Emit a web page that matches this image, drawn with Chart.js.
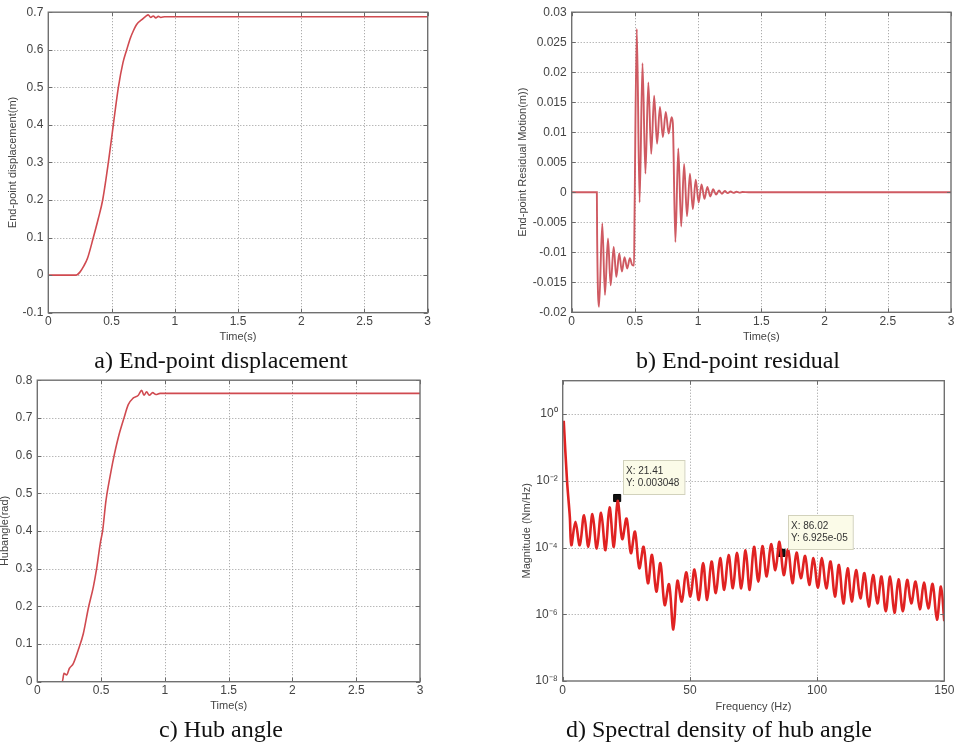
<!DOCTYPE html>
<html><head><meta charset="utf-8">
<script src="https://cdn.jsdelivr.net/npm/chart.js@4.4.1/dist/chart.umd.min.js"></script>
<style>
html,body{margin:0;padding:0;background:#fff;width:959px;height:747px;overflow:hidden;position:relative}
canvas{position:absolute}
.cap{position:absolute;width:440px;text-align:center;font-family:'Liberation Serif','Times New Roman',serif;font-size:24px;line-height:28px;color:#111;z-index:5;white-space:nowrap}
</style></head><body>
<script>
// ---------- DATA ----------
// a) End-point displacement (m) vs time (s)
const aTime = [0, 0.219, 0.25, 0.28, 0.31, 0.356, 0.395, 0.43, 0.475, 0.514, 0.554, 0.59, 0.62, 0.65, 0.672, 0.70, 0.739, 0.77, 0.79, 0.81, 0.83, 0.85, 0.87, 0.89, 0.92, 0.95, 3.0];
const aDisp = [0, 0, 0.008, 0.024, 0.045, 0.10, 0.15, 0.20, 0.30, 0.40, 0.50, 0.565, 0.60, 0.632, 0.65, 0.668, 0.68, 0.689, 0.693, 0.686, 0.690, 0.685, 0.689, 0.686, 0.688, 0.688, 0.688];

// b) End-point residual motion (m) vs time (s)
const bTime = [0, 0.199, 0.201, 0.216, 0.242, 0.263, 0.287, 0.308, 0.332, 0.353, 0.376, 0.397, 0.418, 0.439, 0.46, 0.478, 0.493,
  0.497, 0.515, 0.537, 0.560, 0.583, 0.606, 0.629, 0.652, 0.675, 0.698, 0.721, 0.744, 0.767, 0.790, 0.800,
  0.820, 0.843, 0.866, 0.889, 0.912, 0.935, 0.958, 0.981, 1.004, 1.027, 1.050, 1.073, 1.096, 1.119, 1.142, 1.165, 1.188, 1.211, 1.234, 1.257, 1.280, 1.303, 1.326, 1.350, 1.400, 3.0];
const bResid = [0, 0, -0.007, -0.0191, -0.0052, -0.0171, -0.0077, -0.0155, -0.0091, -0.0141, -0.0102, -0.0132, -0.0108, -0.0127, -0.0110, -0.0121, -0.0122,
  -0.004, 0.0272, -0.0017, 0.0215, 0.0031, 0.0183, 0.0064, 0.0161, 0.0081, 0.0142, 0.0092, 0.0134, 0.0098, 0.0125, 0.0115,
  -0.0083, 0.0073, -0.0057, 0.0047, -0.0040, 0.0031, -0.0028, 0.0021, -0.0017, 0.0013, -0.0011, 0.0009, -0.0007, 0.0005, -0.0004, 0.0003, -0.00025, 0.0002, -0.00015, 0.00012, -0.0001, 0.00008, -0.00006, 0.00004, 0, 0];

// c) Hub angle (rad) vs time (s)
const cTime = [0, 0.196, 0.209, 0.23, 0.251, 0.282, 0.321, 0.361, 0.40, 0.439, 0.465, 0.495, 0.512, 0.538, 0.569, 0.596, 0.635, 0.68, 0.713, 0.753, 0.792, 0.818, 0.836, 0.857, 0.878, 0.904, 0.93, 0.962, 1.0, 3.0];
const cHub  = [0, 0, 0.022, 0.018, 0.035, 0.048, 0.084, 0.128, 0.195, 0.251, 0.30, 0.37, 0.40, 0.48, 0.542, 0.59, 0.648, 0.70, 0.735, 0.753, 0.76, 0.773, 0.76, 0.769, 0.76, 0.767, 0.762, 0.765, 0.765, 0.765];

// d) Spectral density of hub angle: frequency (Hz) vs magnitude (Nm/Hz), lobe peaks and notches
const dFreq = [0.4, 1.7, 2.8, 3.4, 5.0, 6.7, 8.4, 10.1, 11.7, 13.4, 15.1, 16.8, 18.4, 20.1, 21.6, 23.4, 25.1, 26.8, 28.4, 30.1,
  31.8, 33.5, 35.1, 36.8, 38.4, 40.1, 41.8, 43.5, 45.1, 46.8, 48.5, 50.2, 51.8, 53.5, 55.2, 56.8, 58.5, 60.2, 61.9, 63.5,
  65.2, 66.9, 68.5, 70.2, 71.9, 73.5, 75.2, 76.9, 78.5, 80.2, 81.9, 83.6, 85.2, 86.9, 88.6, 90.3, 91.9, 93.6, 95.3, 96.9,
  98.6, 100.3, 101.9, 103.6, 105.3, 107.0, 108.6, 110.3, 112.0, 113.6, 115.3, 117.0, 118.6, 120.3, 122.0, 123.7, 125.3, 127.0, 128.7, 130.4,
  132.0, 133.7, 135.4, 137.0, 138.7, 140.4, 142.0, 143.7, 145.4, 147.1, 148.7, 150.0];
const dMag = [0.63, 1.0e-2, 8.3e-4, 1.17e-4, 5.9e-4, 1.17e-4, 9.3e-4, 1.05e-4, 1.0e-3, 9.3e-5, 1.1e-3, 8.3e-5, 1.6e-3, 1.05e-4, 2.5e-3, 1.8e-4, 7.4e-4, 6.8e-5, 3.0e-4, 2.4e-5,
  1.05e-4, 8.5e-6, 6.0e-5, 4.8e-6, 3.4e-5, 1.9e-6, 7.9e-6, 3.5e-7, 1.0e-5, 2.4e-6, 1.8e-5, 3.4e-6, 2.2e-5, 2.7e-6, 3.4e-5, 2.7e-6, 3.8e-5, 4.3e-6, 4.8e-5, 5.4e-6,
  6.0e-5, 6.0e-6, 6.9e-5, 6.0e-6, 8.3e-5, 5.4e-6, 1.05e-4, 9.5e-6, 1.1e-4, 1.35e-5, 1.26e-4, 2.1e-5, 1.48e-4, 1.5e-5, 8.7e-5, 8.5e-6, 7.1e-5, 1.2e-5, 5.6e-5, 7.6e-6,
  4.8e-5, 6.3e-6, 4.8e-5, 6.0e-6, 3.8e-5, 3.4e-6, 3.0e-5, 2.1e-6, 2.4e-5, 2.4e-6, 2.1e-5, 3.0e-6, 1.7e-5, 1.7e-6, 1.5e-5, 2.1e-6, 1.35e-5, 1.23e-6, 1.35e-5, 1.1e-6,
  1.12e-5, 1.23e-6, 1.07e-5, 2.1e-6, 9.5e-6, 1.4e-6, 8.9e-6, 1.5e-6, 8.1e-6, 6.9e-7, 6.8e-6, 6.2e-7];

// data tips in panel d
const dTipFreq = [21.41, 86.02];
const dTipMag = [0.003048, 6.925e-5];
const dTipXText = ['21.41', '86.02'];
const dTipYText = ['0.003048', '6.925e-05'];

// tick values / labels
const dTickVals = [1, 1e-2, 1e-4, 1e-6, 1e-8];
const dTickLabels = ['10\u2070', '10\u207B\u00B2', '10\u207B\u2074', '10\u207B\u2076', '10\u207B\u2078'];

const captions = ['a) End-point displacement', 'b) End-point residual', 'c) Hub angle', 'd) Spectral density of hub angle'];

// ---------- DRAWING ----------
Chart.defaults.font.family = "'Liberation Sans', Arial, sans-serif";
Chart.defaults.color = '#444';

function mkCanvas(id, cl, ct, cw, ch) {
  const c = document.createElement('canvas');
  c.id = id; c.width = cw; c.height = ch;
  c.style.left = cl + 'px'; c.style.top = ct + 'px';
  c.style.width = cw + 'px'; c.style.height = ch + 'px';
  document.body.appendChild(c);
  return c;
}

const gridFrame = {
  id: 'gridFrame',
  beforeDatasetsDraw(chart) {
    const {ctx, chartArea: a} = chart;
    const xs = chart.scales.x, ys = chart.scales.y;
    ctx.save();
    ctx.strokeStyle = '#9a9a9a'; ctx.lineWidth = 1; ctx.setLineDash([1, 2]);
    xs.ticks.forEach(t => {
      const p = Math.round(xs.getPixelForValue(t.value)) + 0.5;
      if (p > a.left + 2 && p < a.right - 2) { ctx.beginPath(); ctx.moveTo(p, a.top); ctx.lineTo(p, a.bottom); ctx.stroke(); }
    });
    ys.ticks.forEach(t => {
      const p = Math.round(ys.getPixelForValue(t.value)) + 0.5;
      if (p > a.top + 2 && p < a.bottom - 2) { ctx.beginPath(); ctx.moveTo(a.left, p); ctx.lineTo(a.right, p); ctx.stroke(); }
    });
    ctx.restore();
  },
  afterDatasetsDraw(chart) {
    const {ctx, chartArea: a} = chart;
    const xs = chart.scales.x, ys = chart.scales.y;
    ctx.save();
    ctx.strokeStyle = '#6a6a6a'; ctx.lineWidth = 1;
    const tl = 4;
    ctx.beginPath();
    xs.ticks.forEach(t => {
      const p = Math.round(xs.getPixelForValue(t.value)) + 0.5;
      ctx.moveTo(p, a.bottom); ctx.lineTo(p, a.bottom - tl);
      ctx.moveTo(p, a.top); ctx.lineTo(p, a.top + tl);
    });
    ys.ticks.forEach(t => {
      const p = Math.round(ys.getPixelForValue(t.value)) + 0.5;
      ctx.moveTo(a.left, p); ctx.lineTo(a.left + tl, p);
      ctx.moveTo(a.right, p); ctx.lineTo(a.right - tl, p);
    });
    ctx.stroke();
    ctx.strokeStyle = '#707070'; ctx.lineWidth = 1.4;
    ctx.strokeRect(a.left, a.top, a.right - a.left, a.bottom - a.top);
    ctx.restore();
  }
};

const dataTips = {
  id: 'dataTips',
  afterDatasetsDraw(chart) {
    const {ctx} = chart;
    const xs = chart.scales.x, ys = chart.scales.y;
    ctx.save();
    dTipFreq.forEach((f, i) => {
      const px = xs.getPixelForValue(f), py = ys.getPixelForValue(dTipMag[i]);
      const l1 = 'X: ' + dTipXText[i], l2 = 'Y: ' + dTipYText[i];
      ctx.font = "10px 'Liberation Sans', Arial, sans-serif";
      const w = Math.max(ctx.measureText(l1).width, ctx.measureText(l2).width) + 8;
      const bx = Math.round(px + 6), by = Math.round(py - 38), bh = 34;
      ctx.fillStyle = '#fbfbe8'; ctx.fillRect(bx, by, w, bh);
      ctx.strokeStyle = '#d2d2bc'; ctx.lineWidth = 1; ctx.strokeRect(bx + 0.5, by + 0.5, w, bh);
      ctx.fillStyle = '#333'; ctx.textBaseline = 'middle'; ctx.textAlign = 'left';
      ctx.fillText(l1, bx + 3, by + 11);
      ctx.fillText(l2, bx + 3, by + 23);
    });
    ctx.restore();
  }
};

function xy(xs, ys) { return xs.map((v, i) => ({x: v, y: ys[i]})); }

function buildPanel(p) {
  const lh = 13.2;
  const c = mkCanvas(p.id, p.cl, p.ct, p.cw, p.ch);
  const padLeft = p.ytx - p.cl - lh / 2;
  const yW = p.plot.L - p.cl - padLeft;
  const padTop = p.plot.T - p.ct;
  const padRight = p.cl + p.cw - p.plot.R;
  const padBottom = p.ch - (p.xty - p.ct) - lh / 2;
  const xH = (p.ch - padBottom) - (p.plot.B - p.ct);
  const xTicks = Object.assign({font: {size: 12}, color: '#444', padding: 2, maxRotation: 0, autoSkip: false}, p.xTicks || {});
  const yTicks = Object.assign({font: {size: 12}, color: '#444', padding: 5, autoSkip: false}, p.yTicks || {});
  const xScale = Object.assign({type: 'linear', grid: {display: false, drawTicks: false, tickLength: 0}, border: {display: false}, ticks: xTicks,
    title: {display: true, text: p.xtitle, font: {size: 11}, color: '#444', padding: 0},
    afterFit(s) { s.height = xH; }}, p.x);
  const yScale = Object.assign({type: 'linear', grid: {display: false, drawTicks: false, tickLength: 0}, border: {display: false}, ticks: yTicks,
    title: {display: true, text: p.ytitle, font: {size: 11}, color: '#444', padding: 0},
    afterFit(s) { s.width = yW; }}, p.y);
  return new Chart(c, {
    type: 'line',
    data: {datasets: p.datasets},
    plugins: [gridFrame].concat(p.plugins || []),
    options: {
      responsive: false, animation: false, devicePixelRatio: 1,
      layout: {padding: {left: padLeft, top: padTop, right: padRight, bottom: padBottom}},
      plugins: {legend: {display: false}, tooltip: {enabled: false}},
      elements: {point: {radius: 0}},
      scales: {x: xScale, y: yScale}
    }
  });
}

const numLabel = v => String(Number(Number(v).toFixed(4)));

buildPanel({
  id: 'pa', cl: 0, ct: 0, cw: 445, ch: 348,
  plot: {L: 48.3, T: 11, R: 427.7, B: 312.7}, ytx: 12.7, xty: 336.7,
  xtitle: 'Time(s)', ytitle: 'End-point displacement(m)',
  x: {min: 0, max: 3}, xTicks: {stepSize: 0.5, callback: numLabel},
  y: {min: -0.1, max: 0.7}, yTicks: {stepSize: 0.1, callback: numLabel},
  datasets: [{data: xy(aTime, aDisp), borderColor: '#d04a50', borderWidth: 1.6, cubicInterpolationMode: 'monotone', fill: false}]
});

buildPanel({
  id: 'pb', cl: 480, ct: 0, cw: 479, ch: 348,
  plot: {L: 571.7, T: 11.7, R: 951, B: 312.3}, ytx: 523.3, xty: 336.7,
  xtitle: 'Time(s)', ytitle: 'End-point Residual Motion(m))',
  x: {min: 0, max: 3}, xTicks: {stepSize: 0.5, callback: numLabel},
  y: {min: -0.02, max: 0.03}, yTicks: {stepSize: 0.005, callback: numLabel},
  datasets: [{data: xy(bTime, bResid), borderColor: '#cf5a62', borderWidth: 1.9, cubicInterpolationMode: 'monotone', fill: false}]
});

buildPanel({
  id: 'pc', cl: -10, ct: 368, cw: 450, ch: 350,
  plot: {L: 37.3, T: 379, R: 420, B: 681.7}, ytx: 4.5, xty: 705.7,
  xtitle: 'Time(s)', ytitle: 'Hubangle(rad)',
  x: {min: 0, max: 3}, xTicks: {stepSize: 0.5, callback: numLabel},
  y: {min: 0, max: 0.8}, yTicks: {stepSize: 0.1, callback: numLabel},
  datasets: [{data: xy(cTime, cHub), borderColor: '#d04a50', borderWidth: 1.6, cubicInterpolationMode: 'monotone', fill: false}]
});

buildPanel({
  id: 'pd', cl: 480, ct: 368, cw: 479, ch: 350,
  plot: {L: 562.7, T: 380.7, R: 944.3, B: 681}, ytx: 526.7, xty: 706.7,
  xtitle: 'Frequency (Hz)', ytitle: 'Magnitude (Nm/Hz)',
  x: {min: 0, max: 150}, xTicks: {stepSize: 50, callback: numLabel},
  y: {type: 'logarithmic', min: 1e-8, max: 10,
      afterBuildTicks(s) { s.ticks = dTickVals.map(v => ({value: v})); }},
  yTicks: {callback: v => { const i = dTickVals.indexOf(v); return i >= 0 ? dTickLabels[i] : ''; }},
  plugins: [dataTips],
  datasets: [
    {data: xy(dFreq, dMag), borderColor: '#e02222', borderWidth: 2.6, tension: 0.35, fill: false},
    {data: xy(dTipFreq, dTipMag), showLine: false, pointStyle: 'rect', pointRadius: 5, pointBackgroundColor: '#111', pointBorderColor: '#000', pointBorderWidth: 1}
  ]
});

// captions
const capPos = [[221, 345.7], [738, 345.7], [221, 714.7], [719, 714.7]];
captions.forEach((t, i) => {
  const d = document.createElement('div');
  d.className = 'cap';
  d.textContent = t;
  d.style.left = (capPos[i][0] - 220) + 'px';
  d.style.top = capPos[i][1] + 'px';
  document.body.appendChild(d);
});
</script>
</body></html>
